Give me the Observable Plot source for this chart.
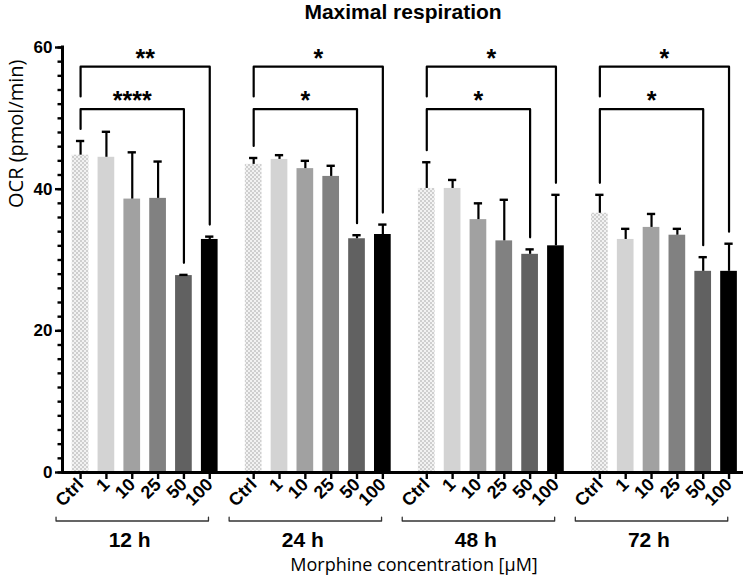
<!DOCTYPE html>
<html><head><meta charset="utf-8">
<script src="https://cdn.jsdelivr.net/npm/d3@7"></script>
<script src="https://cdn.jsdelivr.net/npm/@observablehq/plot@0.6"></script>
<style>body{margin:0;background:#fff;} svg{display:block}</style>
</head><body>
<svg width="0" height="0" style="position:absolute">
<defs><pattern id="checker" width="4" height="4" patternUnits="userSpaceOnUse">
<rect width="4" height="4" fill="#f2f2f2"/><rect width="2" height="2" fill="#cfcfcf"/><rect x="2" y="2" width="2" height="2" fill="#cfcfcf"/></pattern></defs></svg>
<div id="chart"></div>
<script>
const times = ["12 h", "24 h", "48 h", "72 h"];
const concentrations = ["Ctrl", "1", "10", "25", "50", "100"];
const mean12 = [44.8, 44.5, 38.6, 38.7, 27.8, 32.9];
const sd12   = [2.0, 3.6, 6.6, 5.2, 0.1, 0.4];
const mean24 = [43.5, 44.2, 42.9, 41.8, 33.0, 33.6];
const sd24   = [0.9, 0.6, 1.1, 1.5, 0.5, 1.4];
const mean48 = [40.1, 40.1, 35.7, 32.7, 30.8, 32.0];
const sd48   = [3.7, 1.2, 2.3, 5.8, 0.7, 7.2];
const mean72 = [36.6, 32.9, 34.6, 33.5, 28.4, 28.4];
const sd72   = [2.6, 1.5, 1.9, 0.9, 2.0, 3.9];
const starsCtrlVs50  = ["****", "*", "*", "*"];
const starsCtrlVs100 = ["**", "*", "*", "*"];
const bracketLevels = [51.3, 57.3]; // y levels (pmol/min) of the inner and outer significance brackets
const yTicks = [0, 20, 40, 60];

const fills = ["url(#checker)", "#d3d3d3", "#a1a1a1", "#818181", "#616161", "#000000"];
const groupStep = 6.7, halfBar = 0.323, capHalf = 0.16, gap = 1.7;

const means = [mean12, mean24, mean48, mean72];
const sds = [sd12, sd24, sd48, sd72];
const rows = [];
times.forEach((t, g) => concentrations.forEach((c, i) => {
  rows.push({time: t, conc: c, g, i, pos: g * groupStep + i, mean: means[g][i], top: means[g][i] + sds[g][i]});
}));
const byPos = new Map(rows.map(d => [d.pos, d]));

// significance brackets
const brackets = [];
const starLabels = [];
times.forEach((t, g) => {
  const r = rows.filter(d => d.g === g);
  const ctrl = r[0], c50 = r[4], c100 = r[5];
  const [lvIn, lvOut] = bracketLevels;
  brackets.push([{x: ctrl.pos, y: ctrl.top + gap}, {x: ctrl.pos, y: lvIn}, {x: c50.pos, y: lvIn}, {x: c50.pos, y: c50.top + gap}].map(p => ({...p, id: t + "in"})));
  brackets.push([{x: ctrl.pos, y: lvIn + 1.8}, {x: ctrl.pos, y: lvOut}, {x: c100.pos, y: lvOut}, {x: c100.pos, y: c100.top + gap}].map(p => ({...p, id: t + "out"})));
  starLabels.push({x: (ctrl.pos + c50.pos) / 2, y: lvIn, s: starsCtrlVs50[g]});
  starLabels.push({x: (ctrl.pos + c100.pos) / 2, y: lvOut, s: starsCtrlVs100[g]});
});
const bracketPts = brackets.flat();

// group brackets below the axis (in data units below zero)
const groupLines = [];
times.forEach((t, g) => {
  const a = g * groupStep - 0.95, b = g * groupStep + 4.95;
  groupLines.push(...[{x: a, y: -6.3}, {x: a, y: -6.85}, {x: b, y: -6.85}, {x: b, y: -6.3}].map(p => ({...p, id: t})));
});
const groupCenters = times.map((t, g) => ({t, x: g * groupStep + 1.9}));

const xDomain = [-0.70, 3 * groupStep + 5 + 0.56];
const bold = "'Liberation Sans', Arial, sans-serif";

const chart = Plot.plot({
  width: 749, height: 575,
  marginLeft: 62, marginRight: 6, marginTop: 47, marginBottom: 103,
  style: {fontFamily: bold, background: "#fff", color: "#000"},
  x: {type: "linear", domain: xDomain, axis: null},
  y: {domain: [0, 60], axis: null},
  marks: [
    Plot.rectY(rows, {x1: d => d.pos - halfBar, x2: d => d.pos + halfBar, y1: 0, y2: "mean", fill: (d) => fills[d.i]}),
    Plot.ruleX(rows, {x: "pos", y1: "mean", y2: "top", stroke: "#000", strokeWidth: 2.2}),
    Plot.ruleY(rows, {y: "top", x1: d => d.pos - capHalf, x2: d => d.pos + capHalf, stroke: "#000", strokeWidth: 2.4}),
    // brackets
    Plot.line(bracketPts, {x: "x", y: "y", z: "id", stroke: "#000", strokeWidth: 2.2, curve: "linear"}),
    Plot.text(starLabels, {x: "x", y: "y", text: "s", dy: -8, fontSize: 25, fontWeight: "bold", fontFamily: bold, lineAnchor: "middle"}),
    // y axis
    Plot.axisY({ticks: d3.range(0, 61, 2), tickSize: 4.5, strokeWidth: 2.4, text: null, label: null}),
    Plot.axisY({ticks: yTicks, tickSize: 7, strokeWidth: 2.4, tickPadding: 3, fontSize: 17, fontWeight: "bold", label: null}),
    Plot.ruleX([xDomain[0]], {y1: 0, y2: 60, stroke: "#000", strokeWidth: 3, strokeLinecap: "square"}),
    // x axis
    Plot.ruleY([0], {stroke: "#000", strokeWidth: 3}),
    Plot.axisX({ticks: rows.map(d => d.pos), tickFormat: p => byPos.get(p).conc, tickSize: 7, strokeWidth: 2.4, tickRotate: -45, tickPadding: 2, fontSize: 18, fontWeight: "bold", label: null}),
    Plot.line(groupLines, {x: "x", y: "y", z: "id", stroke: "#333", strokeWidth: 1.3}),
    Plot.text(groupCenters, {x: "x", y: 0, text: "t", dy: 68, fontSize: 21, fontWeight: "bold", lineAnchor: "middle"}),
    Plot.text(["Morphine concentration [µM]"], {frameAnchor: "bottom", dy: 93, dx: 11, fontSize: 18, fontFamily: "'Open Sans', sans-serif", lineAnchor: "middle"}),
    Plot.text(["OCR (pmol/min)"], {frameAnchor: "left", dx: -46, dy: -52, rotate: -90, fontSize: 20, fontFamily: "'Open Sans', sans-serif", lineAnchor: "middle"}),
    Plot.text(["Maximal respiration"], {frameAnchor: "top", dy: -35, dx: 0, fontSize: 21, fontWeight: "bold", lineAnchor: "middle"})
  ]
});
document.getElementById("chart").appendChild(chart);
</script>
</body></html>
